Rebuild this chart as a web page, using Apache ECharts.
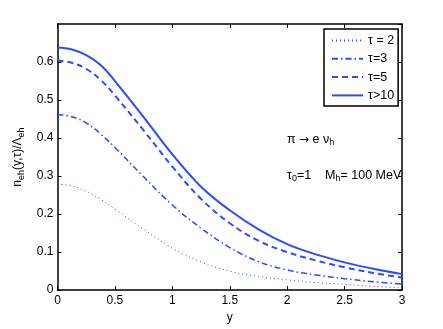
<!DOCTYPE html>
<html><head><meta charset="utf-8">
<script src="https://cdn.jsdelivr.net/npm/echarts@6/dist/echarts.min.js"></script>
<style>html,body{margin:0;padding:0;background:#fff}#c{width:443px;height:329px}</style>
</head><body><div id="c"></div>
<script>
var xs = [0, 0.125, 0.25, 0.375, 0.5, 0.75, 1.0, 1.25, 1.5, 1.75, 2.0, 2.25, 2.5, 2.75, 3.0];
var tau2  = [0.279, 0.274, 0.260, 0.239, 0.213, 0.160, 0.110, 0.074, 0.050, 0.036, 0.027, 0.020, 0.015, 0.010, 0.006];
var tau3  = [0.462, 0.456, 0.440, 0.411, 0.375, 0.298, 0.224, 0.163, 0.112, 0.075, 0.053, 0.040, 0.030, 0.022, 0.016];
var tau5  = [0.604, 0.598, 0.582, 0.553, 0.512, 0.420, 0.325, 0.240, 0.176, 0.130, 0.100, 0.078, 0.060, 0.045, 0.033];
var tau10 = [0.638, 0.633, 0.618, 0.592, 0.550, 0.455, 0.357, 0.272, 0.210, 0.160, 0.121, 0.094, 0.073, 0.056, 0.042];
var seriesNames = ['τ = 2', 'τ=3', 'τ=5', 'τ>10'];
var xTicks = [0, 0.5, 1, 1.5, 2, 2.5, 3];
var yTicks = [0, 0.1, 0.2, 0.3, 0.4, 0.5, 0.6];

function pairs(v){ return xs.map(function(x,i){ return [x, v[i]]; }); }
var FONT = 'Liberation Sans, Arial, sans-serif';
var BLUE = '#2c4bff';
var chart = echarts.init(document.getElementById('c'), null, {renderer:'canvas'});
function mkSeries(name, vals, type, width){
  return {name:name, type:'line', xAxisIndex:0, yAxisIndex:0, data:pairs(vals), symbol:'none',
    smooth:0.4, silent:true,
    lineStyle:{color:BLUE, width:width, type:type}, itemStyle:{color:BLUE}};
}
var axisCommon = {
  axisLine:{show:true, onZero:false, lineStyle:{color:'#000', width:1.5}},
  axisTick:{show:true, inside:true, length:4, lineStyle:{color:'#000', width:1}},
  splitLine:{show:false}
};
var richSub = {
  m:{fontFamily:FONT, fontSize:12.5, lineHeight:16, color:'#000'},
  a:{fontFamily:'DejaVu Sans', fontSize:12, lineHeight:16, color:'#000'},
  s:{fontFamily:FONT, fontSize:9, lineHeight:9, verticalAlign:'bottom', color:'#000'}
};
chart.setOption({
  animation:false,
  backgroundColor:'#fff',
  textStyle:{fontFamily:FONT},
  grid:{left:57.5, right:41, top:24, bottom:37, containLabel:false},
  xAxis:[
    Object.assign({type:'value', min:0, max:3, interval:0.5, position:'bottom',
      name:'y', nameLocation:'middle', nameGap:19,
      nameTextStyle:{fontFamily:FONT, fontSize:12, color:'#000'},
      axisLabel:{color:'#000', fontFamily:FONT, fontSize:12, margin:5,
        formatter:function(v){ return String(v); }}}, axisCommon),
    Object.assign({type:'value', min:0, max:3, interval:0.5, position:'top',
      axisLabel:{show:false}}, axisCommon)
  ],
  yAxis:[
    Object.assign({type:'value', min:0, max:0.7, interval:0.1, position:'left',
      name:'{m|n}{s|eh}{m|(y,τ)/Λ}{s|eh}', nameLocation:'middle', nameGap:30,
      nameTextStyle:{color:'#000', rich:{
        m:{fontFamily:FONT, fontSize:12, lineHeight:16, color:'#000'},
        s:{fontFamily:FONT, fontSize:9, lineHeight:9, verticalAlign:'bottom', color:'#000'}}},
      axisLabel:{color:'#000', fontFamily:FONT, fontSize:12, margin:4, showMaxLabel:false,
        formatter:function(v){ var r = Math.round(v*10)/10; return r>0.65? '' : String(r); }}}, axisCommon),
    Object.assign({type:'value', min:0, max:0.7, interval:0.1, position:'right',
      axisLabel:{show:false}}, axisCommon)
  ],
  legend:{
    left:324, top:29, orient:'vertical', align:'left',
    itemWidth:31, itemHeight:12, itemGap:5.3,
    padding:[5,4,4,7],
    borderColor:'#000', borderWidth:1.5, backgroundColor:'#fff',
    itemStyle:{opacity:0},
    textStyle:{fontFamily:FONT, fontSize:12.5, color:'#000'},
    data:seriesNames
  },
  series:[
    mkSeries(seriesNames[0], tau2, [1,3], 1),
    mkSeries(seriesNames[1], tau3, [6,3,1.5,3], 1.5),
    mkSeries(seriesNames[2], tau5, [6,4], 2),
    mkSeries(seriesNames[3], tau10, 'solid', 2)
  ],
  graphic:[
    {type:'text', left:287, top:133, z:10, style:{
      text:'{m|π }{a|→}{m| e ν}{s|h}', rich:richSub}},
    {type:'text', left:287, top:169, z:10, style:{
      text:'{m|τ}{s|0}{m|=1    M}{s|h}{m|= 100 MeV}', rich:richSub}}
  ]
});
</script></body></html>
